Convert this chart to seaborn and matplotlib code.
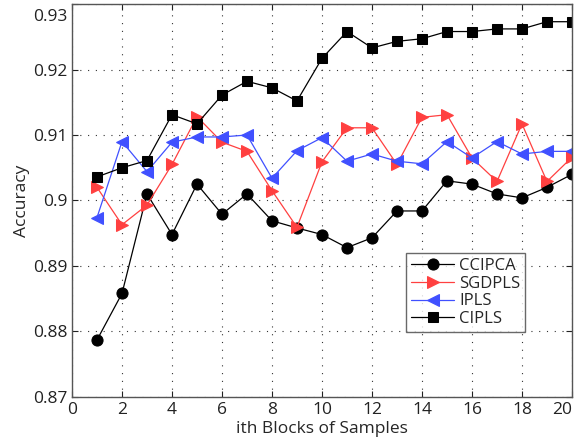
import matplotlib

matplotlib.use("Agg")

import matplotlib.pyplot as plt
import matplotlib.transforms as mtransforms
import pandas as pd
import seaborn as sns

blocks = list(range(1, 21))

ccipca = [0.8787, 0.8858, 0.9010, 0.8948, 0.9025, 0.8979, 0.9010, 0.8969, 0.8958, 0.8948,
          0.8928, 0.8943, 0.8984, 0.8984, 0.9030, 0.9025, 0.9010, 0.9004, 0.9020, 0.9040]
sgdpls = [0.9020, 0.8963, 0.8993, 0.9055, 0.9128, 0.9089, 0.9075, 0.9015, 0.8959, 0.9059,
          0.9111, 0.9111, 0.9055, 0.9127, 0.9131, 0.9065, 0.9029, 0.9117, 0.9029, 0.9066]
ipls = [0.8974, 0.9090, 0.9044, 0.9089, 0.9097, 0.9097, 0.9100, 0.9034, 0.9076, 0.9096,
        0.9060, 0.9071, 0.9060, 0.9056, 0.9090, 0.9065, 0.9090, 0.9071, 0.9075, 0.9075]
cipls = [0.9036, 0.9050, 0.9061, 0.9131, 0.9117, 0.9161, 0.9182, 0.9172, 0.9152, 0.9217,
         0.9258, 0.9233, 0.9243, 0.9247, 0.9258, 0.9258, 0.9262, 0.9262, 0.9273, 0.9273]

x_ticks = list(range(0, 21, 2))
y_ticks = [0.87, 0.88, 0.89, 0.9, 0.91, 0.92, 0.93]
y_tick_labels = ["0.87", "0.88", "0.89", "0.9", "0.91", "0.92", "0.93"]

series = {"CCIPCA": ccipca, "SGDPLS": sgdpls, "IPLS": ipls, "CIPLS": cipls}
styles = {
    "CCIPCA": dict(color="black", marker="o", markersize=8),
    "SGDPLS": dict(color="#ff4040", marker=">", markersize=9),
    "IPLS": dict(color="#4050ff", marker="<", markersize=9),
    "CIPLS": dict(color="black", marker="s", markersize=6.5),
}

sns.set_style("ticks")
plt.rcParams["font.family"] = ["Open Sans", "DejaVu Sans"]

fig = plt.figure(figsize=(5.76, 4.48), dpi=100)
ax = fig.add_axes([0.125, 0.114, 0.868, 0.877])

for name, vals in series.items():
    df = pd.DataFrame({"block": blocks, "acc": vals})
    st = styles[name]
    sns.lineplot(data=df, x="block", y="acc", ax=ax, label=name,
                 color=st["color"], marker=st["marker"], markersize=st["markersize"],
                 markeredgecolor=st["color"], markerfacecolor=st["color"],
                 linewidth=0.9)

ax.set_xlim(0, 20)
ax.set_ylim(0.87, 0.93)
ax.set_xticks(x_ticks)
ax.set_yticks(y_ticks)
ax.set_yticklabels(y_tick_labels)
ax.grid(True, linestyle=(0, (1, 6)), color="#333333", linewidth=0.8)
ax.tick_params(direction="in", top=True, right=True, labelsize=12.5, length=4, colors="#222222")
for sp in ax.spines.values():
    sp.set_color("#555555")
    sp.set_linewidth(1.0)

# keep the end tick labels inside the figure, as in the original export
top_lab = ax.get_yticklabels()[-1]
top_lab.set_transform(top_lab.get_transform()
                      + mtransforms.ScaledTranslation(0, -0.11, fig.dpi_scale_trans))
right_lab = ax.get_xticklabels()[-1]
right_lab.set_transform(right_lab.get_transform()
                        + mtransforms.ScaledTranslation(-0.10, 0, fig.dpi_scale_trans))

ax.set_xlabel("ith Blocks of Samples", fontsize=12.5, labelpad=2)
ax.set_ylabel("Accuracy", fontsize=12.5, labelpad=2)

leg = ax.legend(loc="lower left", bbox_to_anchor=(0.668, 0.165), fancybox=False,
                edgecolor="#444444", fontsize=12, borderpad=0.3, labelspacing=0.1,
                handlelength=2.6, handletextpad=0.3, borderaxespad=0)
leg.get_frame().set_linewidth(1.0)

fig.savefig("out.png", dpi=100)
